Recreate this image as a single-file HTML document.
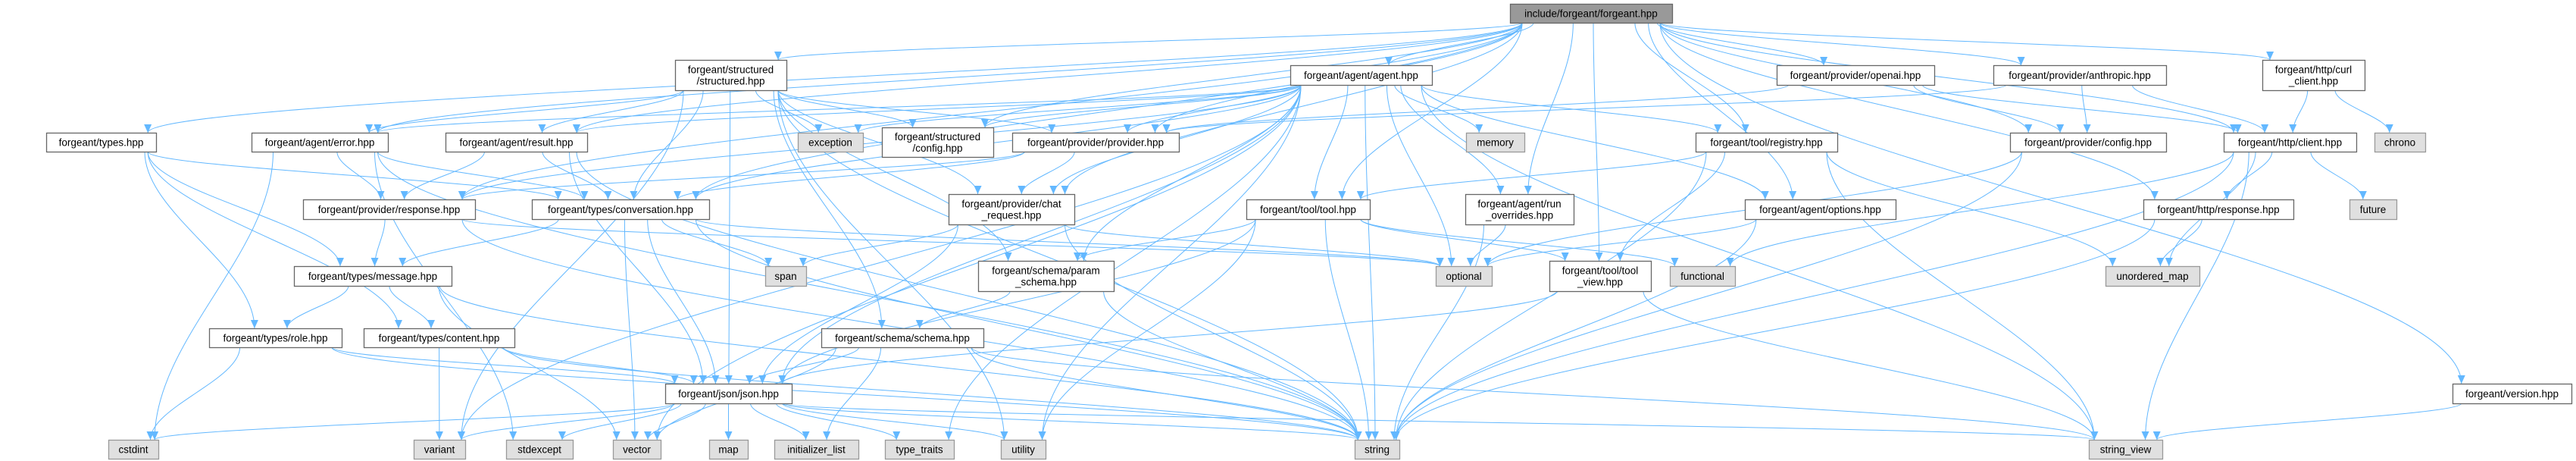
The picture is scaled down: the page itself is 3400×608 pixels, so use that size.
<!DOCTYPE html>
<html><head><meta charset="utf-8">
<style>
html,body{margin:0;padding:0;background:#fff;}
svg{display:block;}
text{font-family:"Liberation Sans",sans-serif;font-size:13.5px;fill:#000;}
</style></head>
<body>
<svg id="g" width="3400" height="608" viewBox="0 0 3400 608" xmlns="http://www.w3.org/2000/svg">
<defs>
<marker id="a" markerUnits="userSpaceOnUse" markerWidth="12" markerHeight="10" refX="11" refY="5" orient="auto">
<path d="M0,0 L11,5 L0,10 z" fill="#63b8ff"/>
</marker>
</defs>
<g id="edges" fill="none" stroke="#63b8ff" stroke-width="1"></g>
<g id="nodes"></g>
</svg>
<script>
var N={
F:[1993,2207,5,30,"include/forgeant/forgeant.hpp",2],
agent:[1703,1890,86,112,"forgeant/agent/agent.hpp"],
openai:[2345,2553,86,112,"forgeant/provider/openai.hpp"],
anthropic:[2631,2859,86,112,"forgeant/provider/anthropic.hpp"],
curl:[2986,3121,79,119,"forgeant/http/curl|_client.hpp"],
structured:[891,1038,79,119,"forgeant/structured|/structured.hpp"],
types:[61,206,175,200,"forgeant/types.hpp"],
error:[332,512,175,200,"forgeant/agent/error.hpp"],
result:[588,775,175,200,"forgeant/agent/result.hpp"],
exception:[1053,1139,175,200,"exception",1],
sconfig:[1164,1311,168,207,"forgeant/structured|/config.hpp"],
provider:[1336,1556,175,200,"forgeant/provider/provider.hpp"],
memory:[1935,2012,175,200,"memory",1],
registry:[2238,2425,175,200,"forgeant/tool/registry.hpp"],
pconfig:[2653,2859,175,200,"forgeant/provider/config.hpp"],
hclient:[2935,3110,175,200,"forgeant/http/client.hpp"],
chrono:[3134,3201,175,200,"chrono",1],
response:[400,627,263,289,"forgeant/provider/response.hpp"],
conversation:[702,936,263,289,"forgeant/types/conversation.hpp"],
chat:[1252,1418,256,296,"forgeant/provider/chat|_request.hpp"],
tool:[1645,1808,263,289,"forgeant/tool/tool.hpp"],
run:[1934,2077,256,296,"forgeant/agent/run|_overrides.hpp"],
options:[2303,2502,263,289,"forgeant/agent/options.hpp"],
hresponse:[2829,3027,263,289,"forgeant/http/response.hpp"],
future:[3101,3163,263,289,"future",1],
message:[388,596,351,377,"forgeant/types/message.hpp"],
span:[1010,1064,351,377,"span",1],
param:[1291,1470,344,384,"forgeant/schema/param|_schema.hpp"],
optional:[1895,1969,351,377,"optional",1],
toolview:[2045,2179,344,384,"forgeant/tool/tool|_view.hpp"],
functional:[2204,2290,351,377,"functional",1],
umap:[2779,2903,351,377,"unordered_map",1],
role:[276,451,433,458,"forgeant/types/role.hpp"],
content:[480,679,433,458,"forgeant/types/content.hpp"],
schema:[1084,1298,433,458,"forgeant/schema/schema.hpp"],
json:[878,1045,506,532,"forgeant/json/json.hpp"],
version:[3237,3394,506,532,"forgeant/version.hpp"],
cstdint:[143,209,580,605,"cstdint",1],
variant:[546,614,580,605,"variant",1],
stdexcept:[668,756,580,605,"stdexcept",1],
vector:[809,872,580,605,"vector",1],
map:[936,987,580,605,"map",1],
init:[1022,1133,580,605,"initializer_list",1],
type_traits:[1168,1259,580,605,"type_traits",1],
utility:[1321,1380,580,605,"utility",1],
string:[1788,1847,580,605,"string",1],
string_view:[2757,2854,580,605,"string_view",1]
};
var E={
F:"agent openai anthropic curl hclient pconfig registry tool run options hresponse version structured sconfig provider types error result response conversation chat toolview",
agent:"error result provider chat conversation registry tool run options memory optional string string_view vector utility type_traits json param sconfig response exception variant",
structured:"exception sconfig provider error result conversation chat param schema json utility string variant",
types:"conversation message role content",
error:"response conversation cstdint stdexcept string",
result:"response conversation json string",
provider:"chat response conversation",
response:"message string optional",
conversation:"message span vector string optional json",
chat:"span optional json string",
message:"role content vector string",
role:"cstdint json string",
content:"variant json string",
schema:"json string string_view init vector",
param:"schema string",
json:"cstdint variant stdexcept vector map init type_traits utility string string_view",
tool:"toolview functional json string utility param",
toolview:"json string_view",
registry:"tool toolview umap string string_view",
run:"optional string",
options:"optional string",
openai:"provider pconfig hclient",
anthropic:"provider pconfig hclient",
curl:"hclient chrono",
hclient:"hresponse future umap string string_view functional",
hresponse:"umap string",
pconfig:"string optional",
version:"string_view"
};
var NS="http://www.w3.org/2000/svg";
var eg=document.getElementById("edges"),ng=document.getElementById("nodes");
function cl(v,a,b){return Math.max(a,Math.min(b,v));}
for(var s in E){E[s].split(" ").forEach(function(t){
 var S=N[s],T=N[t];if(!S||!T)return;
 var scx=(S[0]+S[1])/2,tcx=(T[0]+T[1])/2,sw=(S[1]-S[0])/2*0.85,tw=(T[1]-T[0])/2*0.85;
 var sx=scx+cl((tcx-scx)*0.25,-sw,sw),tx=tcx+cl((scx-tcx)*0.12,-tw,tw);
 var sy=S[3],ty=T[2];var d;
 if(ty>sy+5){var dy=ty-sy;
  d="M"+sx+","+sy+" C"+sx+","+(sy+dy*0.35)+" "+tx+","+(ty-dy*0.35)+" "+tx+","+ty;}
 else{var side=tcx>scx?T[0]:T[1];var my=(T[2]+T[3])/2;
  d="M"+sx+","+sy+" C"+sx+","+(sy+40)+" "+side+","+my+" "+side+","+my;}
 var p=document.createElementNS(NS,"path");p.setAttribute("d",d);p.setAttribute("marker-end","url(#a)");eg.appendChild(p);
});}
for(var k in N){var n=N[k];
 var r=document.createElementNS(NS,"rect");
 r.setAttribute("x",n[0]+0.5);r.setAttribute("y",n[2]+0.5);r.setAttribute("width",n[1]-n[0]);r.setAttribute("height",n[3]-n[2]);
 r.setAttribute("fill",n[5]==2?"#999999":(n[5]==1?"#e0e0e0":"#ffffff"));
 r.setAttribute("stroke",n[5]==1?"#999999":"#666666");r.setAttribute("stroke-width","1.3");ng.appendChild(r);
 var lines=n[4].split("|"),cx=(n[0]+n[1])/2,cy=(n[2]+n[3])/2;
 lines.forEach(function(L,i){var t=document.createElementNS(NS,"text");
  t.setAttribute("x",cx);t.setAttribute("y",cy+5+(i-(lines.length-1)/2)*15);t.setAttribute("text-anchor","middle");
  t.textContent=L;ng.appendChild(t);});
}
</script>
</body></html>
